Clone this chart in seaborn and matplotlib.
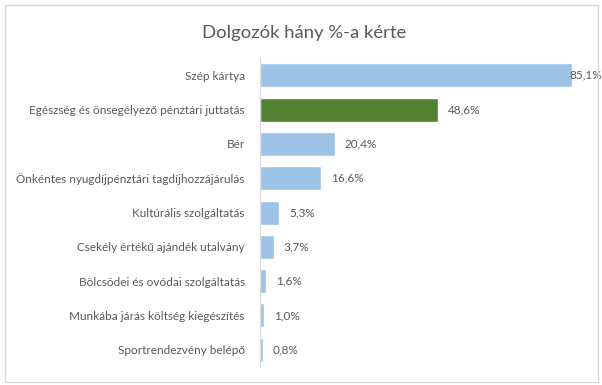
import pandas as pd
import matplotlib.pyplot as plt
import seaborn as sns
from matplotlib.patches import Rectangle

categories = ['Szép kártya', 'Egészség és önsegélyező pénztári juttatás', 'Bér',
              'Önkéntes nyugdíjpénztári tagdíjhozzájárulás', 'Kultúrális szolgáltatás',
              'Csekély értékű ajándék utalvány', 'Bölcsödei és ovódai szolgáltatás',
              'Munkába járás költség kiegészítés', 'Sportrendezvény belépő']
values = [85.1, 48.6, 20.4, 16.6, 5.3, 3.7, 1.6, 1.0, 0.8]
highlight = [False, True, False, False, False, False, False, False, False]

df = pd.DataFrame({'cat': categories, 'val': values,
                   'grp': ['hi' if h else 'lo' for h in highlight]})

sns.set_style('white')
plt.rcParams['font.family'] = ['Lato', 'DejaVu Sans']
txt = '#595959'

fig = plt.figure(figsize=(6.02, 3.85), dpi=100)
ax = fig.add_axes([0.432, 0.047, 0.548, 0.802])
sns.barplot(data=df, y='cat', x='val', hue='grp', orient='h', dodge=False,
            palette={'lo': '#9DC3E6', 'hi': '#548235'}, width=0.7,
            saturation=1, legend=False, ax=ax)

for i, v in enumerate(values):
    # excel pushes the label of the longest bar back onto the bar end
    xpos = v - 0.6 if v > 80 else v + 2.7
    ax.text(xpos, i, f'{v:.1f}%'.replace('.', ','), va='center', ha='left',
            fontsize=8.5, color=txt)

ax.set_xlim(0, 90)
ax.set_xlabel('')
ax.set_ylabel('')
ax.set_xticks([])
ax.tick_params(axis='y', length=0, labelsize=8.5, labelcolor=txt, pad=11)
for s in ['top', 'right', 'bottom']:
    ax.spines[s].set_visible(False)
ax.spines['left'].set_color('#D9D9D9')

fig.text(0.505, 0.915, 'Dolgozók hány %-a kérte', ha='center', va='center',
         fontsize=13.3, color=txt)
fig.patches.append(Rectangle((0.008, 0.008), 0.985, 0.98, transform=fig.transFigure,
                             fill=False, edgecolor='#D9D9D9', linewidth=1))

fig.savefig('out.png', dpi=100)
